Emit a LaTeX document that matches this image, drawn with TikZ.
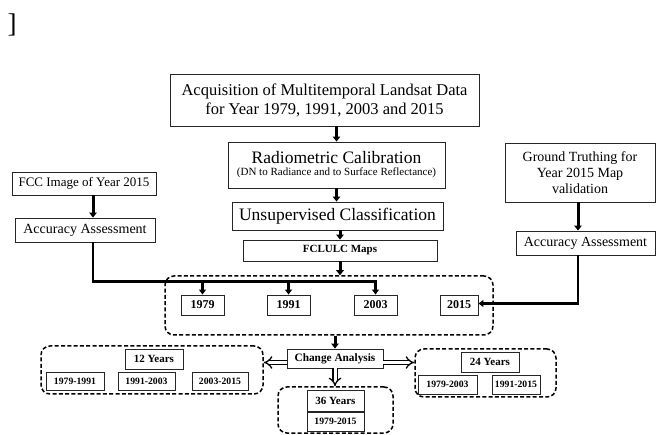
\documentclass[tikz,border=0pt]{standalone}
\usepackage{fontspec}
\setmainfont{Liberation Serif}
\usetikzlibrary{arrows.meta}
\newcommand{\fs}[1]{\fontsize{#1}{\fpeval{#1*1.15}}\selectfont}
\begin{document}
\begin{tikzpicture}[x=1pt,y=-1pt,
  box/.style={draw=black!85, line width=0.9pt, inner sep=0pt, align=center, fill=white},
  grp/.style={draw=black, dashed, line width=1.5pt, dash pattern=on 4pt off 2.3pt, rounded corners=9pt, inner sep=0pt},
  arr/.style={line width=3pt, -{Triangle[length=5pt,width=7.5pt]}},
  thinarr/.style={line width=2.4pt, -{Triangle[length=5pt,width=7pt]}},
  bus/.style={line width=2.4pt},
  dbl/.style={double, double distance=3pt, line width=1.3pt, -{Implies}},
  big/.style={font=\fs{16.5}},
  mid/.style={font=\fs{14}},
  bl/.style={font=\bfseries\fs{11}},
  yr/.style={font=\bfseries\fs{12}},
  rg/.style={font=\bfseries\fs{9.7}}
]
\useasboundingbox (0,0) rectangle (656,435);

\node[font=\fs{27}] (br) at (12,25) {]};

% main column
\node[box, big, minimum width=309pt, minimum height=52pt] (acq) at (324.5,100)
  {Acquisition of Multitemporal Landsat Data\\for Year 1979, 1991, 2003 and 2015};
\node[box, minimum width=217pt, minimum height=46pt] (rad) at (336.5,165)
  {{\fs{17.5}Radiometric Calibration}\\[0pt]{\fs{11}(DN to Radiance and to Surface Reflectance)}};
\node[box, font=\fs{17.5}, minimum width=211pt, minimum height=28pt] (uns) at (337.5,216)
  {Unsupervised Classification};
\node[box, bl, minimum width=194pt, minimum height=21pt] (fcl) at (340,250.5) {FCLULC Maps};

% left column
\node[box, font=\fs{13}, minimum width=144pt, minimum height=23pt] (fcc) at (84,183.5) {FCC Image of Year 2015};
\node[box, mid, minimum width=140pt, minimum height=24pt] (accL) at (85,230) {Accuracy Assessment};

% right column
\node[box, mid, minimum width=150pt, minimum height=59pt] (gt) at (580,172.5)
  {Ground Truthing for\\Year 2015 Map\\validation};
\node[box, mid, minimum width=139pt, minimum height=24pt] (accR) at (585.5,243) {Accuracy Assessment};

% years group
\node[grp, minimum width=328pt, minimum height=59pt] (grpY) at (329,305.5) {};
\node[box, yr, minimum width=43pt, minimum height=20pt] (y1979) at (202.5,305) {1979};
\node[box, yr, minimum width=43pt, minimum height=20pt] (y1991) at (288.5,305) {1991};
\node[box, yr, minimum width=43pt, minimum height=20pt] (y2003) at (375.5,305) {2003};
\node[box, yr, minimum width=38pt, minimum height=20pt] (y2015) at (459,305) {2015};

% change analysis
\node[box, font=\bfseries\fs{11.3}, minimum width=96pt, minimum height=19pt] (chg) at (335,358.5) {Change Analysis};

% 12 years group
\node[grp, minimum width=222pt, minimum height=48pt] (g12) at (152,370) {};
\node[box, bl, minimum width=58pt, minimum height=20pt] (l12) at (154,359) {12 Years};
\node[box, rg, minimum width=58pt, minimum height=18pt] (r1) at (75,381) {1979-1991};
\node[box, rg, minimum width=57pt, minimum height=18pt] (r2) at (146.5,381) {1991-2003};
\node[box, rg, minimum width=56pt, minimum height=18pt] (r3) at (220,381) {2003-2015};

% 24 years group
\node[grp, minimum width=141pt, minimum height=48pt] (g24) at (485.5,373) {};
\node[box, bl, minimum width=58pt, minimum height=20pt] (l24) at (490,362) {24 Years};
\node[box, rg, minimum width=59pt, minimum height=19pt] (r4) at (447.5,384.5) {1979-2003};
\node[box, rg, minimum width=48pt, minimum height=19pt] (r5) at (516,384.5) {1991-2015};

% 36 years group
\node[grp, minimum width=115pt, minimum height=46pt] (g36) at (335.5,410) {};
\node[box, bl, minimum width=57pt, minimum height=21pt] (l36) at (335.5,400.5) {36 Years};
\node[box, rg, minimum width=57pt, minimum height=19pt] (r6) at (335.5,421.5) {1979-2015};

% coordinates
\coordinate (lx) at (93,0);
\coordinate (rx) at (578,0);
\coordinate (busy) at (0,281.5);

% main arrows
\draw[arr] (acq.south -| rad.north) -- (rad.north);
\draw[arr] (rad.south) -- (rad.south |- uns.north);
\draw[arr] (uns.south -| fcl.north) -- (fcl.north);
\draw[arr] (fcl.south) -- (fcl.south |- grpY.north);

\draw[arr] (fcc.south -| lx) -- (accL.north -| lx);
\draw[bus] (accL.south -| lx) |- ([xshift=1.2pt]y2003.north |- busy);
\draw[thinarr] (y1979.north |- busy) -- (y1979.north);
\draw[thinarr] (y1991.north |- busy) -- (y1991.north);
\draw[thinarr] ([yshift=1.2pt]y2003.north |- busy) -- (y2003.north);

\draw[arr] (gt.south -| rx) -- (accR.north -| rx);
\draw[bus, -{Triangle[length=5pt,width=7pt]}] (accR.south -| rx) |- ([yshift=1.5pt]y2015.east);

\draw[arr] (grpY.south -| chg.north) -- (chg.north);

\draw[dbl] ([yshift=-4pt]chg.west) -- ([yshift=-4pt]chg.west -| g12.east);
\draw[dbl] ([yshift=-4pt]chg.east) -- ([yshift=-4pt]chg.east -| g24.west);
\draw[dbl] (chg.south) -- (chg.south |- g36.north);
\end{tikzpicture}
\end{document}
